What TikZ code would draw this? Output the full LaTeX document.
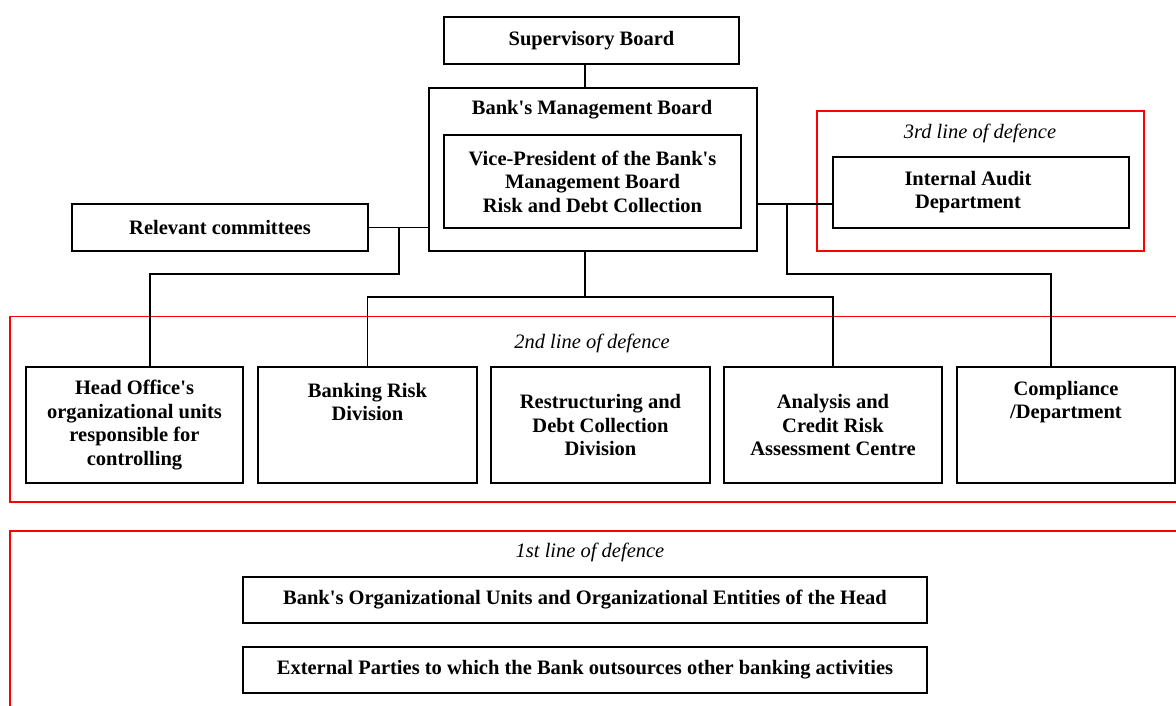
\documentclass[tikz,border=0pt]{standalone}
\usepackage{fontspec}
\setmainfont{Liberation Serif}
\newcommand\apo{\textquotesingle}
\begin{document}
\begin{tikzpicture}[x=1pt,y=-1pt,
  every node/.style={font=\fontsize{20.5}{23.5}\selectfont\bfseries, align=center, inner sep=0pt},
  box/.style={draw=black, line width=1.5pt, rectangle, minimum width=#1},
  ln/.style={draw=black, line width=1.5pt},
  redline/.style={draw=red, line width=1.6pt},
  deflabel/.style={font=\fontsize{20.5}{23.5}\selectfont\itshape}]
\useasboundingbox (0,0) rectangle (1176,706);

% red frames
\draw[redline] (817,111) rectangle (1144,251);
\draw[redline] (1177,316.5) -- (10,316.5) -- (10,502) -- (1177,502);
\draw[redline] (1177,531) -- (10,531) -- (10,707);

% boxes
\node[box=295pt, minimum height=47pt] (sup) at (591.5,40.5) {Supervisory Board};
\node[box=328pt, minimum height=163pt] (mgmt) at (593,169.5) {};
\node (mgmtt) at (592,110) {Bank\apo s Management Board};
\node[box=297pt, minimum height=93pt] (vp) at (592.5,181.5) {Vice-President of the Bank\apo s\\Management Board\\Risk and Debt Collection};
\node[box=296pt, minimum height=47pt] (comm) at (220,227.5) {Relevant committees};
\node[box=296pt, minimum height=71pt] (audit) at (981,192.5) {};
\node (auditt) at (968,192) {Internal Audit\\Department};
\node[deflabel] (l3) at (980,133) {3rd line of defence};
\node[deflabel] (l2) at (592,343) {2nd line of defence};
\node[deflabel] (l1) at (590,552) {1st line of defence};

\node[box=217pt, minimum height=116pt] (head) at (134.5,425) {Head Office\apo s\\organizational units\\responsible for\\controlling};
\node[box=219pt, minimum height=116pt] (brisk) at (367.5,425) {};
\node (briskt) at (367.5,402) {Banking Risk\\Division};
\node[box=219pt, minimum height=116pt] (restr) at (600.5,425) {Restructuring and\\Debt Collection\\Division};
\node[box=218pt, minimum height=116pt] (anal) at (833,425) {Analysis and\\Credit Risk\\Assessment Centre};
\node[box=218pt, minimum height=116pt] (comp) at (1066,425) {};
\node (compt) at (1066,402) {Compliance\\/Department};

\node[box=684pt, minimum height=46pt] (org) at (585,600) {Bank\apo s Organizational Units and Organizational Entities of the Head};
\node[box=684pt, minimum height=46pt] (ext) at (585,670) {External Parties to which the Bank outsources other banking activities};

% connectors
\coordinate (cx) at (585,0);
\draw[ln] (sup.south -| cx) -- (mgmt.north -| cx);
\draw[ln] (comm.east) -- (comm.east -| mgmt.west);
\coordinate (j1) at (399,228);
\coordinate (k1) at (399,274);
\coordinate (h1) at (150,274);
\draw[ln] (j1) -- (k1) -- (h1) -- (h1 |- head.north);
\coordinate (r0) at (0,204);
\draw[ln] (mgmt.east |- r0) -- (audit.west |- r0);
\coordinate (j2) at (787,204);
\coordinate (k2) at (787,274);
\coordinate (h2) at (1051,274);
\draw[ln] (j2) -- (k2) -- (h2) -- (h2 |- comp.north);
\coordinate (m1) at (585,297);
\draw[ln] (mgmt.south -| cx) -- (m1);
\draw[ln] (brisk.north) -- (brisk.north |- m1) -- (anal.north |- m1) -- (anal.north);
\end{tikzpicture}
\end{document}
